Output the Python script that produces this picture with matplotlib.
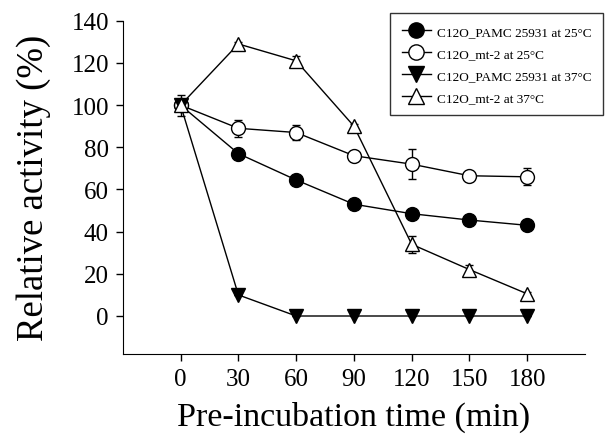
import matplotlib
matplotlib.use("Agg")
from matplotlib import pyplot as plt
from matplotlib.lines import Line2D

plt.rcParams['font.family'] = ['Liberation Serif', 'DejaVu Serif']

time_min = [0, 30, 60, 90, 120, 150, 180]

pamc_25 = [100, 77, 64.5, 53, 48.5, 45.5, 43]
pamc_25_err = [3, 1, 1, 1, 1, 1, 1]
mt2_25 = [100, 89, 87, 76, 72, 66.5, 66]
mt2_25_err = [5, 4, 3.5, 1.5, 7, 1.5, 4]
pamc_37 = [100, 10, 0, 0, 0, 0, 0]
pamc_37_err = [3, 0, 0, 0, 0, 0, 0]
mt2_37 = [100, 129, 121, 90, 34, 22, 10.5]
mt2_37_err = [3, 1, 2.5, 1, 4, 2, 1]

labels = ['C12O_PAMC 25931 at 25\u00b0C', 'C12O_mt-2 at 25\u00b0C',
          'C12O_PAMC 25931 at 37\u00b0C', 'C12O_mt-2 at 37\u00b0C']
markers = ['o', 'o', 'v', '^']
faces = ['black', 'white', 'black', 'white']

fig = plt.figure(figsize=(6.05, 4.35), dpi=100)
ax = fig.add_axes([0.203, 0.184, 0.764, 0.766])

series = [(pamc_25, pamc_25_err), (mt2_25, mt2_25_err),
          (pamc_37, pamc_37_err), (mt2_37, mt2_37_err)]
for (vals, errs), m, fc in zip(series, markers, faces):
    ax.errorbar(time_min, vals, yerr=errs, marker=m, markerfacecolor=fc,
                color='black', linewidth=1, markersize=10, capsize=3,
                elinewidth=1, markeredgewidth=1, markeredgecolor='black')

ax.set_xlim(-30, 210)
ax.set_ylim(-18, 140)
ax.set_xticks(time_min)
ax.set_yticks([0, 20, 40, 60, 80, 100, 120, 140])
ax.spines['top'].set_visible(False)
ax.spines['right'].set_visible(False)
ax.tick_params(labelsize=18, direction='out', length=5, width=1, pad=5)
ax.set_xlabel('Pre-incubation time (min)', fontsize=24.5, labelpad=8)
ax.set_ylabel('Relative activity (%)', fontsize=26.5, labelpad=15)

handles = [Line2D([], [], color='black', linewidth=1, marker=m, markersize=11,
                  markerfacecolor=fc, markeredgecolor='black')
           for m, fc in zip(markers, faces)]
leg = fig.legend(handles, labels, loc='upper right',
                 bbox_to_anchor=(603 / 605, 1 - 14 / 435), fontsize=9.5,
                 frameon=True, fancybox=False, edgecolor='black', handlelength=2.2,
                 handleheight=1.1, handletextpad=0.5, labelspacing=0.62,
                 borderpad=0.85, borderaxespad=0)
leg.get_frame().set_linewidth(1)

fig.savefig('out.png', dpi=100)
